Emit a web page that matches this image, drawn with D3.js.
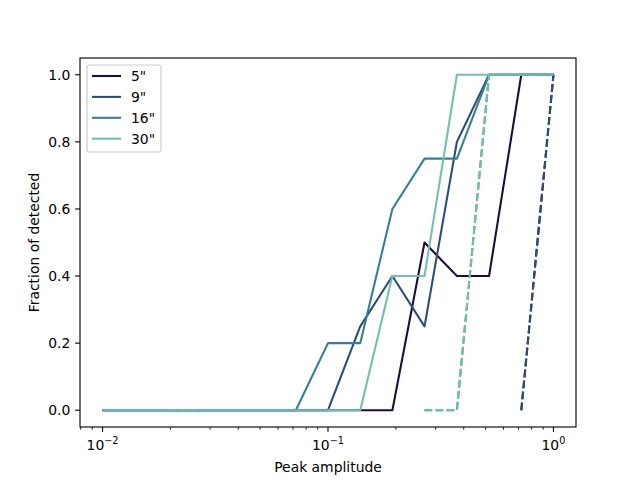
<!DOCTYPE html>
<html>
<head>
<meta charset="utf-8">
<script src="https://cdn.jsdelivr.net/npm/d3@7"></script>
<style>
body{margin:0;background:#fff;}
svg{display:block;font-family:"DejaVu Sans",sans-serif;}
</style>
</head>
<body>
<svg id="chart" width="640" height="480"></svg>
<script>
// ---- data ----
const amplitudes = [0.01, 0.0139, 0.0193, 0.0268, 0.0373, 0.0518, 0.0720, 0.1, 0.139, 0.193, 0.268, 0.373, 0.518, 0.720, 1.0];
const seriesNames = ['5"', '9"', '16"', '30"'];
const seriesColors = ["#1c0b40", "#2c4b7e", "#2f8098", "#71bfb1"];
const frac5  = [0,0,0,0,0,0,0,0,0,0,0.5,0.4,0.4,1,1];
const frac9  = [0,0,0,0,0,0,0,0,0.25,0.4,0.25,0.8,1,1,1];
const frac16 = [0,0,0,0,0,0,0,0.2,0.2,0.6,0.75,0.75,1,1,1];
const frac30 = [0,0,0,0,0,0,0,0,0,0.4,0.4,1,1,1,1];
const dash5  = [null,null,null,null,null,null,null,null,null,null,null,null,null,0,1];
const dash9  = [null,null,null,null,null,null,null,null,null,null,null,null,null,0,1];
const dash16 = [null,null,null,null,null,null,null,null,null,null,0,0,1,1,1];
const dash30 = [null,null,0,0,null,null,null,null,null,null,0,0,1,1,1];
const yTicks = [0,0.2,0.4,0.6,0.8,1.0];
const xTickExps = [-2,-1,0];
const xLabel = "Peak amplitude";
const yLabel = "Fraction of detected";

const solid = [frac5, frac9, frac16, frac30];
const dashed = [dash5, dash9, dash16, dash30];

// ---- layout ----
const L = 80, R = 576, T = 58, B = 427;
const svg = d3.select("#chart");
const x = d3.scaleLog().domain([Math.pow(10,-2.1), Math.pow(10,0.1)]).range([L, R]);
const y = d3.scaleLinear().domain([-0.05, 1.05]).range([B, T]);

const line = d3.line()
  .defined(d => d[1] !== null)
  .x(d => x(d[0])).y(d => y(d[1]));

const plot = svg.append("g");
solid.forEach((s, i) => {
  plot.append("path")
    .attr("d", line(amplitudes.map((a, j) => [a, s[j]])))
    .attr("fill", "none").attr("stroke", seriesColors[i])
    .attr("stroke-width", 2.08).attr("stroke-linejoin", "round").attr("stroke-linecap", "butt");
});
dashed.forEach((s, i) => {
  plot.append("path")
    .attr("d", line(amplitudes.map((a, j) => [a, s[j]])))
    .attr("fill", "none").attr("stroke", seriesColors[i])
    .attr("stroke-width", 2.08).attr("stroke-dasharray", "7.7,3.33");
});

// ---- axes ----
const fs = 13.9;
const xAxis = svg.append("g").attr("transform", `translate(0,${B})`);
// minor ticks
const minor = [];
for (let e = -3; e <= 0; e++) for (let m = 2; m <= 9; m++) {
  const v = m * Math.pow(10, e);
  if (v >= x.domain()[0] && v <= x.domain()[1]) minor.push(v);
}
xAxis.selectAll(".minor").data(minor).enter().append("line")
  .attr("x1", d => x(d)).attr("x2", d => x(d)).attr("y1", 0).attr("y2", 2.78)
  .attr("stroke", "#000").attr("stroke-width", 0.84);
xTickExps.forEach(e => {
  const v = Math.pow(10, e);
  xAxis.append("line").attr("x1", x(v)).attr("x2", x(v)).attr("y1", 0).attr("y2", 4.86)
    .attr("stroke", "#000").attr("stroke-width", 1.11);
  const t = xAxis.append("text").attr("x", x(v)).attr("y", 23).attr("text-anchor", "middle")
    .attr("font-size", fs);
  t.append("tspan").text("10");
  t.append("tspan").attr("dy", -6).attr("font-size", 9.7).text("\u2212" + Math.abs(e) === "" ? "" : (e < 0 ? "\u2212" + Math.abs(e) : String(e)));
});
const yAxis = svg.append("g").attr("transform", `translate(${L},0)`);
yTicks.forEach(v => {
  yAxis.append("line").attr("x1", 0).attr("x2", -4.86).attr("y1", y(v)).attr("y2", y(v))
    .attr("stroke", "#000").attr("stroke-width", 1.11);
  yAxis.append("text").attr("x", -9.7).attr("y", y(v)).attr("dy", "0.35em")
    .attr("text-anchor", "end").attr("font-size", fs).text(v.toFixed(1));
});
// spines
svg.append("rect").attr("x", L).attr("y", T).attr("width", R - L).attr("height", B - T)
  .attr("fill", "none").attr("stroke", "#000").attr("stroke-width", 1.11);

svg.append("text").attr("x", (L + R) / 2).attr("y", 472).attr("text-anchor", "middle")
  .attr("font-size", fs).text(xLabel);
svg.append("text").attr("transform", `translate(39,${(T + B) / 2}) rotate(-90)`)
  .attr("text-anchor", "middle").attr("font-size", fs).text(yLabel);

// ---- legend ----
const lg = svg.append("g");
lg.append("rect").attr("x", 87).attr("y", 65).attr("width", 74).attr("height", 87)
  .attr("rx", 2.8).attr("fill", "#fff").attr("fill-opacity", 0.8)
  .attr("stroke", "#cccccc").attr("stroke-width", 1.11);
seriesNames.forEach((n, i) => {
  const yy = 76 + i * 20.9;
  lg.append("line").attr("x1", 92).attr("x2", 121).attr("y1", yy).attr("y2", yy)
    .attr("stroke", seriesColors[i]).attr("stroke-width", 2.08);
  lg.append("text").attr("x", 131).attr("y", yy).attr("dy", "0.35em")
    .attr("font-size", fs).text(n);
});
</script>
</body>
</html>
